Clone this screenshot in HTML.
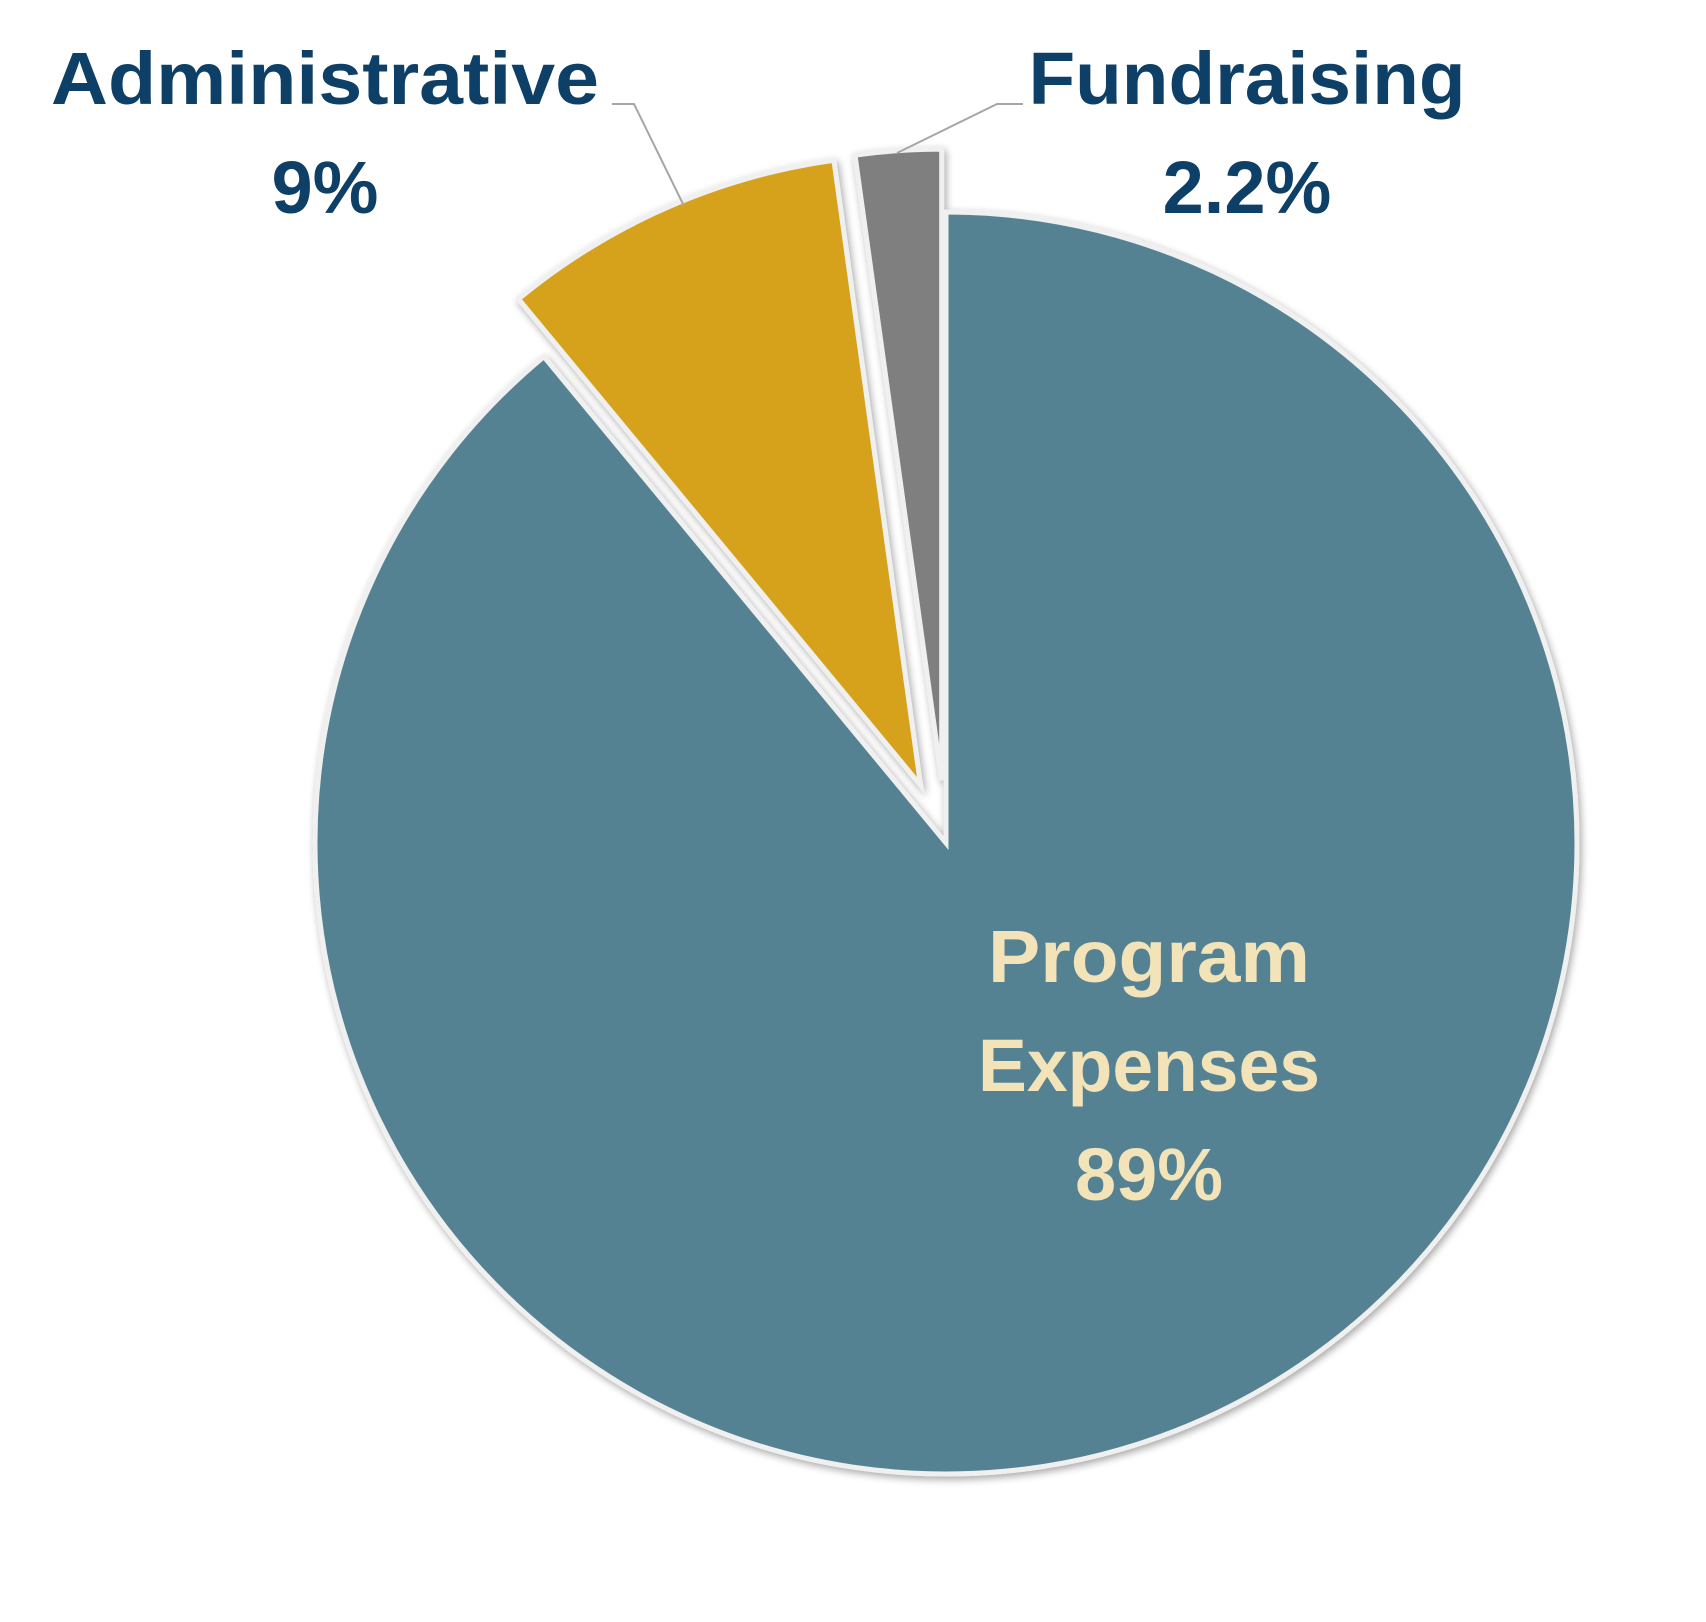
<!DOCTYPE html>
<html><head><meta charset="utf-8"><style>
html,body{margin:0;padding:0;background:#fff;}
svg{display:block;}
text{font-family:"Liberation Sans",sans-serif;font-weight:bold;}
</style></head><body>
<svg width="1706" height="1622" viewBox="0 0 1706 1622" xmlns="http://www.w3.org/2000/svg">
<defs>
<filter id="sh" x="-10%" y="-10%" width="120%" height="120%">
<feGaussianBlur in="SourceAlpha" stdDeviation="4"/>
<feOffset dx="2" dy="3" result="b"/>
<feComponentTransfer><feFuncA type="linear" slope="0.35"/></feComponentTransfer>
<feMerge><feMergeNode/><feMergeNode in="SourceGraphic"/></feMerge>
</filter>
</defs>
<g transform="translate(-5,-2)">
<g filter="url(#sh)" stroke="#f0f0f0" stroke-width="5" stroke-linejoin="miter">
<path d="M951,845 L951,214 A631,631 0 1 1 548.9,358.7 Z" fill="#548293"/>
<path d="M925.6,787.3 L523.5,301 A631,631 0 0 1 838.9,162.3 Z" fill="#D6A21E"/>
<path d="M946.7,782.1 L860,157.1 A631,631 0 0 1 946.7,151.1 Z" fill="#7F7F7F"/>
</g>
</g>
<polyline points="612,104 634,104 684,206" fill="none" stroke="#a6a6a6" stroke-width="2"/>
<polyline points="1023,104 997,104 897,153" fill="none" stroke="#a6a6a6" stroke-width="2"/>
<g fill="#0E3F66" font-size="74" text-anchor="middle">
<text x="325" y="104" textLength="548" lengthAdjust="spacingAndGlyphs">Administrative</text>
<text x="325" y="213">9%</text>
<text x="1247" y="104" textLength="437" lengthAdjust="spacingAndGlyphs">Fundraising</text>
<text x="1247" y="213">2.2%</text>
</g>
<g fill="#F2E3B8" font-size="74" text-anchor="middle">
<text x="1149" y="982" textLength="322" lengthAdjust="spacingAndGlyphs">Program</text>
<text x="1149" y="1091" textLength="342" lengthAdjust="spacingAndGlyphs">Expenses</text>
<text x="1149" y="1200">89%</text>
</g>
</svg>
</body></html>
